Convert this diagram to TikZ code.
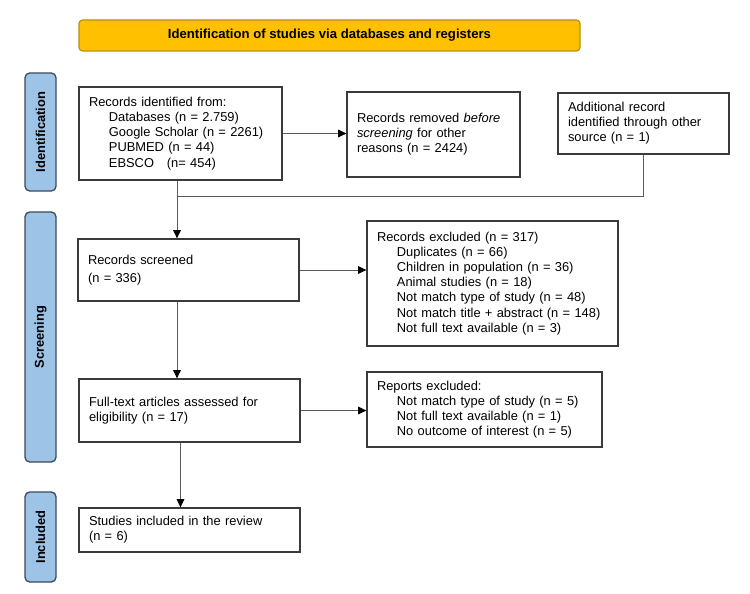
\documentclass[tikz,border=0pt]{standalone}
\usepackage{fontspec}
\setmainfont{Liberation Sans}
\usetikzlibrary{arrows.meta}
\definecolor{bannerfill}{HTML}{FFC000}
\definecolor{banneredge}{HTML}{B8900A}
\definecolor{tabfill}{HTML}{9DC3E6}
\definecolor{tabedge}{HTML}{3B4A5C}
\definecolor{boxedge}{HTML}{3A3A3A}
\definecolor{lineclr}{HTML}{5A5A5A}
\newcommand{\ind}{\hspace*{17pt}}
\begin{document}
\begin{tikzpicture}[
        every node/.style = {font=\fontsize{11}{12.9}\selectfont},
        box/.style = {shape=rectangle, draw=boxedge, line width=1.1pt,
        align=left, inner xsep=0.3cm, inner ysep=0pt},
        tab/.style = {shape=rectangle, rounded corners=4pt, draw=tabedge,
        fill=tabfill, line width=1.1pt, rotate=90, minimum height=0.93cm,
        font=\fontsize{11}{13}\selectfont\bfseries},
        arr/.style = {draw=lineclr, line width=0.8pt,
        -{Triangle[length=7pt,width=6.5pt,color=black]}}]
    \useasboundingbox (0,0) rectangle (22.5,-17.79);
    \node[shape=rectangle, rounded corners=3pt, draw=banneredge, fill=bannerfill,
        line width=1pt, minimum width=15.03cm, minimum height=0.93cm,
        font=\fontsize{11.2}{13}\selectfont\bfseries] (banner) at (9.885,-1.065)
        {Identification of studies via databases and registers};
    \node[tab, minimum width=3.54cm] (tabid) at (1.215,-3.96) {Identification};
    \node[tab, minimum width=7.5cm] (tabscr) at (1.215,-10.11) {Screening};
    \node[tab, minimum width=2.7cm] (tabinc) at (1.215,-16.11) {Included};
    \node[box, text width=5.49cm, minimum height=2.79cm] (idn) at (5.415,-4.005)
        {Records identified from:\\ \ind Databases (n = 2.759)\\ \ind Google Scholar (n = 2261)\\
         \ind PUBMED (n = 44)\\ \ind EBSCO\quad (n= 454)};
    \node[box, text width=4.59cm, minimum height=2.55cm] (removed) at (13.005,-4.035)
        {Records removed \textit{before}\\ \textit{screening} for other\\ reasons (n = 2424)};
    \node[box, text width=4.53cm, minimum height=1.83cm] (other) at (19.305,-3.705)
        {Additional record\\ identified through other\\ source (n = 1)};
    \node[box, text width=6.03cm, minimum height=1.86cm] (screened) at (5.655,-8.1)
        {Records screened\\[2pt] (n = 336)};
    \node[box, text width=6.93cm, minimum height=3.75cm] (excl) at (14.775,-8.505)
        {Records excluded (n = 317)\\ \ind Duplicates (n = 66)\\ \ind Children in population (n = 36)\\
         \ind Animal studies (n = 18)\\ \ind Not match type of study (n = 48)\\
         \ind Not match title + abstract (n = 148)\\ \ind Not full text available (n = 3)};
    \node[box, text width=6.03cm, minimum height=1.89cm] (fulltext) at (5.685,-12.315)
        {Full-text articles assessed for\\ eligibility (n = 17)};
    \node[box, text width=6.45cm, minimum height=2.25cm] (reports) at (14.535,-12.285)
        {Reports excluded:\\ \ind Not match type of study (n = 5)\\ \ind Not full text available (n = 1)\\
         \ind No outcome of interest (n = 5)};
    \node[box, text width=6.03cm, minimum height=1.32cm] (included) at (5.685,-15.9)
        {Studies included in the review\\ (n = 6)};
    \coordinate (col) at (5.31,-5.88);
    % connectors
    \draw[arr] (idn.east) -- (idn.east -| removed.west);
    \draw[draw=lineclr, line width=0.8pt] (other.south) |- (col);
    \draw[arr] (idn.south -| col) -- (screened.north -| col);
    \draw[arr] (screened.east) -- (screened.east -| excl.west);
    \draw[arr] (screened.south -| col) -- (fulltext.north -| col);
    \draw[arr] (fulltext.east) -- (fulltext.east -| reports.west);
    \draw[arr] (fulltext.south -| idn.south) -- (included.north -| idn.south);
\end{tikzpicture}
\end{document}
